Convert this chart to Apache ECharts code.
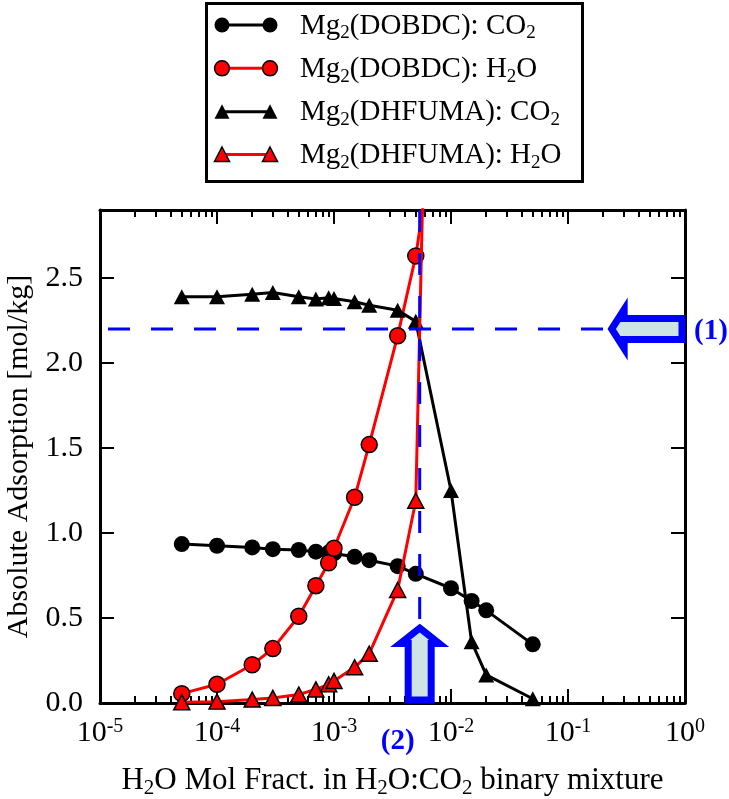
<!DOCTYPE html>
<html><head><meta charset="utf-8">
<script src="https://cdn.jsdelivr.net/npm/echarts@6/dist/echarts.min.js"></script>
<style>html,body{margin:0;padding:0;background:#fff}#c{width:729px;height:799px}</style>
</head><body><div id="c"></div>
<script>
// ---- data ----
const xFrac      = [5e-5, 1e-4, 2e-4, 3e-4, 5e-4, 7e-4, 9e-4, 1e-3, 1.5e-3, 2e-3, 3.5e-3, 5e-3, 1e-2, 1.5e-2, 2e-2, 5e-2];
const dobdcCO2   = [0.935, 0.925, 0.915, 0.905, 0.90, 0.89, 0.885, 0.88, 0.86, 0.84, 0.805, 0.76, 0.675, 0.60, 0.545, 0.345];
const dobdcH2O   = [0.055, 0.11, 0.225, 0.32, 0.51, 0.69, 0.825, 0.91, 1.21, 1.52, 2.16, 2.63, 4.0];
const dhfumaCO2  = [2.39, 2.39, 2.405, 2.415, 2.39, 2.376, 2.384, 2.38, 2.36, 2.34, 2.31, 2.245, 1.25, 0.36, 0.165, 0.025];
const dhfumaH2O  = [0.005, 0.008, 0.02, 0.03, 0.05, 0.08, 0.11, 0.13, 0.21, 0.29, 0.665, 1.19, 10.3];
const xDecades   = [1e-5, 1e-4, 1e-3, 1e-2, 1e-1, 1];
const yTicks     = [0, 0.5, 1.0, 1.5, 2.0, 2.5];
const markX = 5.4e-3;     // vertical dashed guide (2)
const markY = 2.2;        // horizontal dashed guide (1)
const arrow1TipX = 0.214; // tip of arrow (1)
const arrow2TipY = 0.47;  // tip of arrow (2)
const seriesNames = ['Mg2(DOBDC): CO2', 'Mg2(DOBDC): H2O', 'Mg2(DHFUMA): CO2', 'Mg2(DHFUMA): H2O'];

const minorX = [];
xDecades.slice(0, -1).forEach(d => { for (let k = 2; k <= 9; k++) minorX.push(+(k * d).toPrecision(3)); });

const FONT = '"Liberation Serif", "Times New Roman", serif';
const FS = 30;
const supRich = {
  b: {fontFamily: FONT, fontSize: FS, lineHeight: 33, color: '#000'},
  s: {fontFamily: FONT, fontSize: 20, lineHeight: 20, verticalAlign: 'top', color: '#000'}
};
function mkSubRich(fs) {
  return {
    m: {fontFamily: FONT, fontSize: fs, lineHeight: Math.round(fs * 1.18), color: '#000'},
    s: {fontFamily: FONT, fontSize: Math.round(fs * 0.67), lineHeight: Math.round(fs * 0.74), verticalAlign: 'bottom', color: '#000'}
  };
}
function subText(str) { // "Mg2(DOBDC): CO2" -> rich with subscripts after Mg, H, CO
  return str.replace(/(Mg|H|CO)2/g, '$1\u0000').split('\u0000').map((p, i, a) =>
    (p ? '{m|' + p + '}' : '') + (i < a.length - 1 ? '{s|2}' : '')).join('');
}
function pairs(xs, ys) { return ys.map((y, i) => [xs[i], y]); }

const chart = echarts.init(document.getElementById('c'));
function mkX(position, showLine, vals, len, labels) {
  return {
    type: 'log', logBase: 10, min: 1e-5, max: 1, gridIndex: 0, position: position,
    splitLine: {show: false}, minorTick: {show: false}, minorSplitLine: {show: false},
    axisLine: {show: showLine, onZero: false, lineStyle: {color: '#000', width: 3}},
    axisTick: {show: true, inside: true, length: len, customValues: vals, lineStyle: {color: '#000', width: 2}},
    axisLabel: labels ? {
      show: true, customValues: xDecades, margin: 14,
      formatter: v => '{b|10}{s|' + Math.round(Math.log10(v)) + '}', rich: supRich
    } : {show: false},
    name: labels ? subText('H2O Mol Fract. in H2O:CO2 binary mixture') : '',
    nameLocation: 'middle', nameGap: 59,
    nameTextStyle: {fontFamily: FONT, fontSize: 31, color: '#000', rich: mkSubRich(31)}
  };
}
function mkY(position, labels) {
  return {
    type: 'value', min: 0, max: 2.9, position: position, gridIndex: 0,
    splitLine: {show: false},
    axisLine: {show: true, onZero: false, lineStyle: {color: '#000', width: 3}},
    axisTick: {show: true, inside: true, length: 14, customValues: yTicks, lineStyle: {color: '#000', width: 2}},
    axisLabel: labels ? {show: true, customValues: yTicks, margin: 17, formatter: v => v.toFixed(1),
      fontFamily: FONT, fontSize: FS, color: '#000'} : {show: false},
    name: labels ? 'Absolute Adsorption [mol/kg]' : '',
    nameLocation: 'middle', nameGap: 66, nameRotate: 90,
    nameTextStyle: {fontFamily: FONT, fontSize: FS, color: '#000'}
  };
}
const blackLine = {color: '#000', width: 3};
const redLine = {color: '#ff0000', width: 3};
const option = {
  animation: false,
  backgroundColor: '#fff',
  grid: {left: 100, right: 44, top: 210, bottom: 96, containLabel: false, outerBoundsMode: 'none'},
  xAxis: [
    mkX('bottom', true, xDecades, 14, true),
    mkX('bottom', false, minorX, 7, false),
    mkX('top', true, xDecades, 14, false),
    mkX('top', false, minorX, 7, false)
  ],
  yAxis: [mkY('left', true), mkY('right', false)],
  series: [
    {name: seriesNames[0], type: 'line', data: pairs(xFrac, dobdcCO2), symbol: 'circle', symbolSize: 16,
      lineStyle: blackLine, itemStyle: {color: '#000', borderWidth: 0}, z: 2},
    {name: seriesNames[1], type: 'line', data: pairs(xFrac, dobdcH2O), symbol: 'circle', symbolSize: 16,
      lineStyle: redLine, itemStyle: {color: '#ff0000', borderColor: '#000', borderWidth: 1.5}, z: 3},
    {name: seriesNames[2], type: 'line', data: pairs(xFrac, dhfumaCO2), symbol: 'triangle', symbolSize: [16, 15],
      lineStyle: blackLine, itemStyle: {color: '#000', borderWidth: 0}, z: 4},
    {name: seriesNames[3], type: 'line', data: pairs(xFrac, dhfumaH2O), symbol: 'triangle', symbolSize: [16, 15],
      lineStyle: redLine, itemStyle: {color: '#ff0000', borderColor: '#000', borderWidth: 1.5}, z: 5},
    {name: 'guide1', type: 'line', data: [[1e-5, markY], [arrow1TipX, markY]], symbol: 'none', silent: true,
      lineStyle: {color: '#0000ff', width: 3, type: [22, 21], dashOffset: 35}, z: 6},
    {name: 'guide2', type: 'line', data: [[markX, 2.9], [markX, arrow2TipY]], symbol: 'none', silent: true,
      lineStyle: {color: '#0000ff', width: 3, type: [22, 21], dashOffset: 0}, z: 6}
  ]
};
chart.setOption(option);

// ---- annotations: arrows, labels and legend ----
const px = v => chart.convertToPixel({xAxisIndex: 0, yAxisIndex: 0}, v);
const t1 = px([arrow1TipX, markY]);
const t2 = px([markX, arrow2TipY]);
const rightEdge = px([1, 0])[0];
const bottomEdge = px([1e-5, 0])[1];
const ARROW_FILL = '#cde4e4', BLUE = '#0000ff';
const arrow1 = [
  [t1[0] + 5, t1[1]], [t1[0] + 17.5, t1[1] - 19.5], [t1[0] + 17.5, t1[1] - 10.5],
  [rightEdge - 3, t1[1] - 10.5], [rightEdge - 3, t1[1] + 10.5],
  [t1[0] + 17.5, t1[1] + 10.5], [t1[0] + 17.5, t1[1] + 19.5]
];
const arrow2 = [
  [t2[0], t2[1] + 5], [t2[0] + 19.5, t2[1] + 20.5], [t2[0] + 11.5, t2[1] + 20.5],
  [t2[0] + 11.5, bottomEdge - 3], [t2[0] - 11.5, bottomEdge - 3],
  [t2[0] - 11.5, t2[1] + 20.5], [t2[0] - 19.5, t2[1] + 20.5]
];
const graphics = [
  {type: 'polygon', shape: {points: arrow1}, z: 100,
    style: {fill: ARROW_FILL, stroke: BLUE, lineWidth: 7, lineJoin: 'miter', miterLimit: 10}},
  {type: 'polygon', shape: {points: arrow2}, z: 100,
    style: {fill: ARROW_FILL, stroke: BLUE, lineWidth: 7, lineJoin: 'miter', miterLimit: 10}},
  {type: 'text', z: 101, style: {text: '(1)', x: rightEdge + 9, y: t1[1] + 3, align: 'left', verticalAlign: 'middle',
    font: 'bold 29px ' + FONT, fill: BLUE}},
  {type: 'text', z: 101, style: {text: '(2)', x: t2[0] - 22, y: 742, align: 'center', verticalAlign: 'middle',
    font: 'bold 29px ' + FONT, fill: BLUE}}
];
// legend box
graphics.push({type: 'rect', z: 100, shape: {x: 206.5, y: 3.5, width: 376, height: 178},
  style: {fill: '#fff', stroke: '#000', lineWidth: 3}});
const rowsY = [25, 68.3, 111.7, 154.5];
const lx1 = 222, lx2 = 270;
const legRich = mkSubRich(29);
seriesNames.forEach((nm, i) => {
  const y = rowsY[i];
  const red = i % 2 === 1;
  const col = red ? '#ff0000' : '#000';
  graphics.push({type: 'line', z: 101, shape: {x1: lx1, y1: y, x2: lx2, y2: y}, style: {stroke: col, lineWidth: 3}});
  [lx1, lx2].forEach(cx => {
    if (i < 2) {
      graphics.push({type: 'circle', z: 102, shape: {cx: cx, cy: y, r: 7.5},
        style: {fill: col, stroke: red ? '#000' : null, lineWidth: red ? 1.5 : 0}});
    } else {
      graphics.push({type: 'polygon', z: 102, shape: {points: [[cx, y - 7.5], [cx + 7.5, y + 7], [cx - 7.5, y + 7]]},
        style: {fill: col, stroke: red ? '#000' : null, lineWidth: red ? 1.5 : 0}});
    }
  });
  graphics.push({type: 'text', z: 101, style: {text: subText(nm), x: 300, y: y + 1, align: 'left',
    verticalAlign: 'middle', rich: legRich, fontFamily: FONT, fontSize: 29, fill: '#000'}});
});
chart.setOption({graphic: graphics});
</script>
</body></html>
